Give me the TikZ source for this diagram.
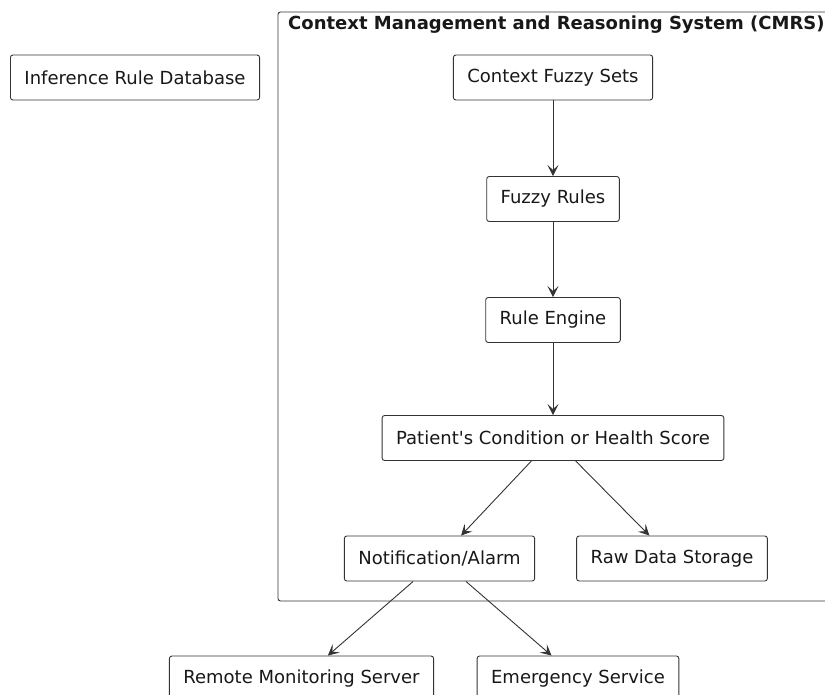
\documentclass[tikz,border=0pt]{standalone}
\usepackage{fontspec}
\setmainfont{DejaVu Sans}
\definecolor{cmInk}{HTML}{181818}
\definecolor{cmLine}{HTML}{333333}
\usetikzlibrary{arrows.meta,positioning}

\begin{document}
\begin{tikzpicture}[x=1pt,y=-1pt,font=\fontsize{18}{21}\selectfont,
  box/.style={draw=cmLine,line width=0.9pt,rounded corners=2.5pt,fill=white,text=cmInk,
              minimum height=45pt,inner xsep=14pt,inner ysep=0pt},
  flow/.style={draw=cmLine,line width=0.9pt,-{Stealth[length=11pt,width=11pt,inset=5pt]}}]
\clip (0,0) rectangle (825,695);
% system frame
\draw[cmLine,line width=0.9pt,rounded corners=2.5pt] (278,12) rectangle (860,601);
\node[anchor=west,font=\fontsize{18}{21}\selectfont\bfseries,text=cmInk,inner sep=0pt]
  (title) at (288,25) {Context Management and Reasoning System (CMRS)};
% nodes
\node[box] (ird) at (135,77.5)   {Inference Rule Database};
\node[box] (cfs) at (553,77.5)   {Context Fuzzy Sets};
\node[box] (fr)  at (553,199)    {Fuzzy Rules};
\node[box] (re)  at (553,320)    {Rule Engine};
\node[box] (pc)  at (553,438)    {Patient\textquotesingle s Condition or Health Score};
\node[box] (na)  at (439.5,558.5) {Notification/Alarm};
\node[box] (rds) at (672,558.5)  {Raw Data Storage};
\node[box] (rms) at (301.5,678.5) {Remote Monitoring Server};
\node[box] (es)  at (578,678.5)  {Emergency Service};
% connectors
\draw[flow] (cfs) -- (fr);
\draw[flow] (fr) -- (re);
\draw[flow] (re) -- (pc);
\draw[flow] (pc) -- (na);
\draw[flow] (pc) -- (rds);
\draw[flow] (na) -- (rms);
\draw[flow] (na) -- (es);
\end{tikzpicture}
\end{document}
